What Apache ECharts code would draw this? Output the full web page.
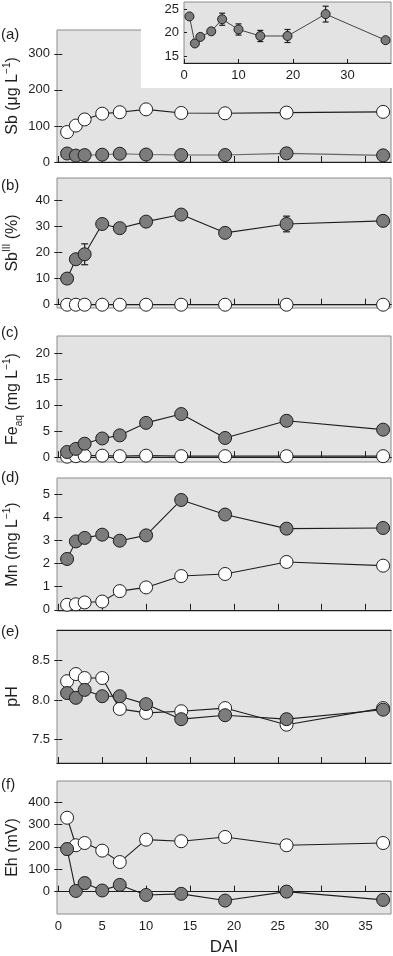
<!DOCTYPE html>
<html>
<head>
<meta charset="utf-8">
<script src="https://cdn.jsdelivr.net/npm/echarts@6/dist/echarts.min.js"></script>
<style>
html, body { margin: 0; padding: 0; background: #fff; }
#chart { width: 393px; height: 956px; }
</style>
</head>
<body>
<div id="chart"></div>
<script>
var days = [1, 2, 3, 5, 7, 10, 14, 19, 26, 37];
var xTicks = [0, 5, 10, 15, 20, 25, 30, 35];
var insetXTicks = [0, 10, 20, 30];

// (a) Sb, ug/L
var sbOpen = [83, 101, 118, 134, 138, 146, 136, 135, 137, 139];
var sbGray = [23.5, 17.7, 19.1, 20.3, 22.9, 20.7, 19.3, 19.3, 24.0, 18.4];
var sbGrayErr = [0.3, 0.3, 0.3, 0.5, 1.3, 1.2, 1.2, 1.4, 1.7, 0.3];
var sbTicks = [0, 100, 200, 300];
var insetTicks = [15, 20, 25];

// (b) SbIII, %
var sb3Open = [0, 0, 0, 0, 0, 0, 0, 0, 0, 0];
var sb3Gray = [10.0, 17.4, 19.3, 30.9, 29.3, 31.8, 34.5, 27.5, 30.9, 32.1];
var sb3GrayErr = [0.5, 1, 4, 1.2, 0.5, 1.5, 0.5, 0.5, 3, 0.5];
var sb3Ticks = [0, 10, 20, 30, 40];

// (c) Fe aq, mg/L
var feOpen = [0.1, 0.2, 0.3, 0.3, 0.2, 0.3, 0.2, 0.2, 0.2, 0.2];
var feGray = [1.0, 1.6, 2.6, 3.6, 4.2, 6.6, 8.3, 3.7, 7.0, 5.3];
var feGrayErr = [0.2, 0.2, 0.2, 0.2, 0.2, 0.3, 0.3, 0.2, 0.9, 0.2];
var feTicks = [0, 5, 10, 15, 20];

// (d) Mn, mg/L
var mnOpen = [0.22, 0.24, 0.32, 0.36, 0.81, 0.97, 1.46, 1.55, 2.07, 1.91];
var mnGray = [2.20, 2.96, 3.11, 3.25, 2.99, 3.22, 4.75, 4.12, 3.51, 3.54];
var mnTicks = [0, 1, 2, 3, 4, 5];

// (e) pH
var phOpen = [8.24, 8.33, 8.28, 8.28, 7.89, 7.84, 7.86, 7.90, 7.69, 7.90];
var phGray = [8.09, 8.03, 8.13, 8.05, 8.05, 7.95, 7.76, 7.81, 7.76, 7.88];
var phTicks = [7.5, 8.0, 8.5];

// (f) Eh, mV
var ehOpen = [330, 207, 217, 183, 132, 232, 225, 244, 207, 217];
var ehGray = [190, 3, 38, 5, 30, -15, -10, -40, 0, -37];
var ehGrayErr = [25, 5, 25, 5, 5, 5, 5, 5, 15, 5];
var ehTicks = [0, 100, 200, 300, 400];

var chart = echarts.init(document.getElementById('chart'));

var FONT = 'Liberation Sans, Arial, sans-serif';
var INK = '#1e1e1e';
var PANEL_BG = '#e3e3e3';

var nameRich = {
    sup: { fontSize: 10, fontFamily: FONT, color: INK, verticalAlign: 'top', lineHeight: 22 },
    sub: { fontSize: 10, fontFamily: FONT, color: INK, verticalAlign: 'bottom', lineHeight: 22 }
};

var panels = [
    { label: '(a)', name: 'Sb (μg L{sup|−1})', open: sbOpen, gray: sbGray, err: sbGrayErr, ticks: sbTicks, min: 0, max: 366, top: 30, height: 132, labelTop: 27 },
    { label: '(b)', name: 'Sb{sup|III} (%)', open: sb3Open, gray: sb3Gray, err: sb3GrayErr, ticks: sb3Ticks, min: -1.26, max: 48.5, top: 178, height: 130, labelTop: 178 },
    { label: '(c)', name: 'Fe{sub|aq} (mg L{sup|−1})', open: feOpen, gray: feGray, err: feGrayErr, ticks: feTicks, min: -0.92, max: 23.3, top: 336, height: 126, labelTop: 325 },
    { label: '(d)', name: 'Mn (mg L{sup|−1})', open: mnOpen, gray: mnGray, err: null, ticks: mnTicks, min: -0.05, max: 5.7, top: 478, height: 133, labelTop: 470 },
    { label: '(e)', name: 'pH', open: phOpen, gray: phGray, err: null, ticks: phTicks, min: 7.206, max: 8.887, top: 630, height: 133, labelTop: 624 },
    { label: '(f)', name: 'Eh (mV)', open: ehOpen, gray: ehGray, err: ehGrayErr, ticks: ehTicks, min: -100, max: 494, top: 781, height: 133, labelTop: 777 }
];

function pairs(vals) {
    return days.map(function (d, k) { return [d, vals[k]]; });
}

function errData(vals, errs) {
    return days.map(function (d, k) { return [d, vals[k] - errs[k], vals[k] + errs[k]]; });
}

function errRender(cap) {
    return function (params, api) {
        var x = api.value(0);
        var p1 = api.coord([x, api.value(1)]);
        var p2 = api.coord([x, api.value(2)]);
        var st = { stroke: INK, lineWidth: 1.2 };
        return {
            type: 'group',
            children: [
                { type: 'line', shape: { x1: p1[0], y1: p1[1], x2: p2[0], y2: p2[1] }, style: st },
                { type: 'line', shape: { x1: p1[0] - cap, y1: p1[1], x2: p1[0] + cap, y2: p1[1] }, style: st },
                { type: 'line', shape: { x1: p2[0] - cap, y1: p2[1], x2: p2[0] + cap, y2: p2[1] }, style: st }
            ]
        };
    };
}

var grids = [], xAxes = [], yAxes = [], series = [], graphics = [];

panels.forEach(function (p, i) {
    var last = i === panels.length - 1;
    grids.push({
        left: 57, right: 2, top: p.top, height: p.height,
        containLabel: false, outerBoundsMode: 'none',
        show: true, backgroundColor: PANEL_BG, borderColor: '#8c8c8c', borderWidth: 1
    });
    xAxes.push({
        gridIndex: i, type: 'value', min: -0.15, max: 37.9,
        axisLine: { show: true, lineStyle: { color: INK, width: 1.2 } },
        axisTick: { show: true, inside: true, length: 6, customValues: xTicks, lineStyle: { color: INK } },
        axisLabel: { show: last, customValues: xTicks, margin: 6, fontSize: 13, fontFamily: FONT, color: INK },
        splitLine: { show: false },
        name: last ? 'DAI' : '', nameLocation: 'middle', nameGap: 25, nameMoveOverlap: false,
        nameTextStyle: { fontSize: 17, fontFamily: FONT, color: INK }
    });
    xAxes.push({
        gridIndex: i, type: 'value', position: 'top', min: -0.15, max: 37.9,
        axisLine: { show: true, lineStyle: { color: INK, width: 1.2 } },
        axisTick: { show: false }, axisLabel: { show: false }, splitLine: { show: false }
    });
    yAxes.push({
        gridIndex: i, type: 'value', min: p.min, max: p.max,
        axisLine: { show: false },
        axisTick: { show: true, inside: true, length: 4, customValues: p.ticks, lineStyle: { color: INK } },
        axisLabel: {
            customValues: p.ticks, margin: 7, fontSize: 13, fontFamily: FONT, color: INK,
            formatter: function (v) { return i === 4 ? v.toFixed(1) : String(v); }
        },
        splitLine: { show: false },
        name: p.name, nameLocation: 'middle', nameRotate: 90, nameGap: 33, nameMoveOverlap: false,
        nameTextStyle: { fontSize: 16, fontFamily: FONT, color: INK, lineHeight: 22, rich: nameRich }
    });
    yAxes.push({
        gridIndex: i, type: 'value', position: 'right', min: p.min, max: p.max,
        axisLine: { show: false },
        axisTick: { show: true, inside: true, length: 4, customValues: p.ticks, lineStyle: { color: INK } },
        axisLabel: { show: false, customValues: p.ticks },
        splitLine: { show: false }
    });

    if (p.err) {
        series.push({
            type: 'custom', xAxisIndex: 2 * i, yAxisIndex: 2 * i,
            renderItem: errRender(3.5), encode: { x: 0, y: [1, 2] },
            data: errData(p.gray, p.err), z: 1, silent: true
        });
    }
    series.push({
        type: 'line', xAxisIndex: 2 * i, yAxisIndex: 2 * i, data: pairs(p.open),
        symbol: 'circle', symbolSize: 13, clip: false, silent: true,
        lineStyle: { color: INK, width: 1.1 },
        itemStyle: { color: '#ffffff', borderColor: INK, borderWidth: 1 }
    });
    series.push({
        type: 'line', xAxisIndex: 2 * i, yAxisIndex: 2 * i, data: pairs(p.gray),
        symbol: 'circle', symbolSize: 13, clip: false, silent: true,
        lineStyle: { color: i === 0 ? '#666' : INK, width: 1.1 },
        itemStyle: { color: '#7c7c7c', borderColor: INK, borderWidth: 1 }
    });

    graphics.push({
        type: 'text', left: 1, top: p.labelTop, z: 30,
        style: { text: p.label, font: '15px ' + FONT, fill: INK }
    });
});

// inset of panel (a): white backing, then its own grid
graphics.push({
    type: 'rect', z: 10, silent: true,
    shape: { x: 141, y: 0, width: 252, height: 88 },
    style: { fill: '#ffffff' }
});

var insetIdx = panels.length * 2;
grids.push({
    left: 184, right: 2, top: 2, height: 61, z: 11,
    containLabel: false, outerBoundsMode: 'none',
    show: true, backgroundColor: PANEL_BG, borderColor: '#8c8c8c', borderWidth: 1
});
xAxes.push({
    gridIndex: panels.length, type: 'value', min: 0, max: 38, z: 12,
    axisLine: { show: true, lineStyle: { color: INK, width: 1 } },
    axisTick: { show: true, inside: true, length: 4, customValues: insetXTicks, lineStyle: { color: INK } },
    axisLabel: { customValues: insetXTicks, margin: 6, fontSize: 13, fontFamily: FONT, color: INK },
    splitLine: { show: false }
});
yAxes.push({
    gridIndex: panels.length, type: 'value', min: 13.5, max: 26.6, z: 12,
    axisLine: { show: false },
    axisTick: { show: true, inside: true, length: 3, customValues: insetTicks, lineStyle: { color: INK } },
    axisLabel: { customValues: insetTicks, margin: 5, fontSize: 13, fontFamily: FONT, color: INK },
    splitLine: { show: false }
});
series.push({
    type: 'custom', xAxisIndex: insetIdx, yAxisIndex: insetIdx, z: 12,
    renderItem: errRender(3), encode: { x: 0, y: [1, 2] },
    data: errData(sbGray, sbGrayErr), silent: true
});
series.push({
    type: 'line', xAxisIndex: insetIdx, yAxisIndex: insetIdx, data: pairs(sbGray), z: 13,
    symbol: 'circle', symbolSize: 9, clip: false, silent: true,
    lineStyle: { color: '#444', width: 1 },
    itemStyle: { color: '#7c7c7c', borderColor: INK, borderWidth: 1 }
});

chart.setOption({
    animation: false,
    backgroundColor: '#ffffff',
    textStyle: { fontFamily: FONT },
    grid: grids,
    xAxis: xAxes,
    yAxis: yAxes,
    series: series,
    graphic: graphics
});
</script>
</body>
</html>
